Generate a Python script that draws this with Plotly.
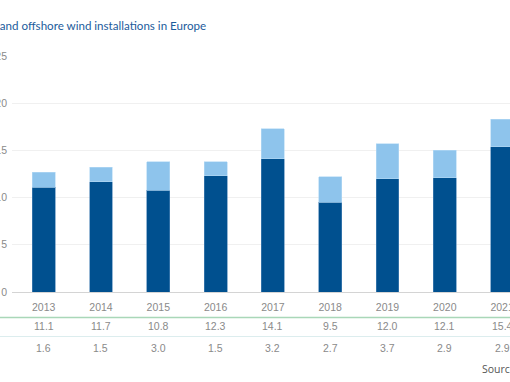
import plotly.graph_objects as go

years = ["2013", "2014", "2015", "2016", "2017", "2018", "2019", "2020", "2021"]
onshore = [11.1, 11.7, 10.8, 12.3, 14.1, 9.5, 12.0, 12.1, 15.4]
offshore = [1.6, 1.5, 3.0, 1.5, 3.2, 2.7, 3.7, 2.9, 2.9]
y_ticks = [0, 5, 10, 15, 20, 25]

DARK = "#00508f"
LIGHT = "#8ec4ec"
GRAY = "#8a8a8a"

fig = go.Figure()
fig.add_trace(go.Bar(x=years, y=onshore, name="Onshore", marker=dict(color=DARK, line=dict(color="#4f86b8", width=0.6))))
fig.add_trace(go.Bar(x=years, y=offshore, name="Offshore", marker=dict(color=LIGHT, line=dict(color="#b5daf5", width=0.6))))

L, T, B, W, H = 12, 56, 90, 510, 382
pw = W - L
ph = H - T - B

def py(p):
    return (H - B - p) / ph

def px(p):
    return (p - L) / pw

fig.update_layout(
    width=W, height=H,
    margin=dict(l=L, r=0, t=T, b=B),
    barmode="stack", bargap=0.6,
    plot_bgcolor="white", paper_bgcolor="white",
    showlegend=False,
    font=dict(family="Liberation Sans", color=GRAY, size=10.5),
)
fig.update_xaxes(
    type="category", range=[-0.553, 8.138], showgrid=False,
    showline=True, linecolor="#d4d4d4", linewidth=1,
    ticks="", ticklabelstandoff=5, tickfont=dict(size=10.5, color=GRAY), automargin=False,
)
fig.update_yaxes(
    range=[0, 25], tickvals=y_ticks, showgrid=True, gridcolor="#f0f0f0", gridwidth=1,
    zeroline=False, showline=False, ticks="", ticklabelstandoff=4,
    tickfont=dict(size=10.5, color=GRAY), automargin=False,
)

fig.add_annotation(text="Onshore and offshore wind installations in Europe", xref="paper", yref="paper",
                   x=px(208), y=py(26), xanchor="right", yanchor="middle", showarrow=False,
                   font=dict(family="Lato", size=11.6, color="#1c5c9c"))

fig.add_shape(type="line", xref="paper", yref="paper", x0=px(0), x1=px(510), y0=py(317.5), y1=py(317.5),
              line=dict(color="#a9d7b8", width=1.5))
fig.add_shape(type="line", xref="paper", yref="paper", x0=px(0), x1=px(510), y0=py(336.5), y1=py(336.5),
              line=dict(color="#dcedee", width=1))

for i, v in enumerate(onshore):
    fig.add_annotation(text=f"{v:.1f}", x=i, xref="x", yref="paper", y=py(326), yanchor="middle",
                       showarrow=False, font=dict(size=10.5, color=GRAY))
for i, v in enumerate(offshore):
    fig.add_annotation(text=f"{v:.1f}", x=i, xref="x", yref="paper", y=py(348), yanchor="middle",
                       showarrow=False, font=dict(size=10.5, color=GRAY))

fig.add_annotation(text="Source: WindEurope", xref="paper", yref="paper", x=px(480), y=py(369),
                   xanchor="left", yanchor="middle", showarrow=False,
                   font=dict(family="Open Sans", size=10.5, color="#555555"))

fig.write_html("out.html", config={"displayModeBar": False},
               post_script="document.body.style.margin='0';document.body.style.overflow='hidden';")
